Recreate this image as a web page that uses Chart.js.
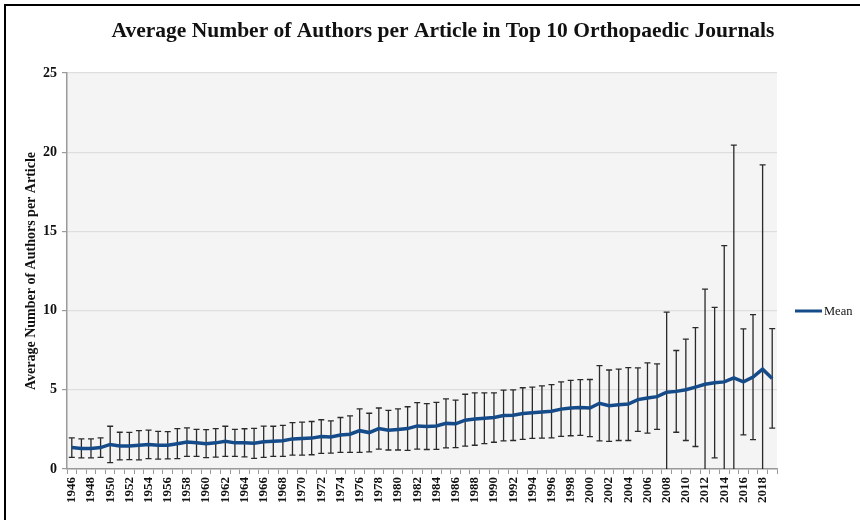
<!DOCTYPE html>
<html>
<head>
<meta charset="utf-8">
<title>Authors per Article</title>
<script src="https://cdn.jsdelivr.net/npm/chart.js@4.4.1/dist/chart.umd.min.js"></script>
<style>
  html, body { margin: 0; padding: 0; background: #fff; overflow: hidden; }
  #chart { display: block; }
</style>
</head>
<body>
<canvas id="chart" width="860" height="520"></canvas>
<script>
const years = [
  '1946', '1947', '1948', '1949', '1950', '1951', '1952', '1953', '1954', '1955',
  '1956', '1957', '1958', '1959', '1960', '1961', '1962', '1963', '1964', '1965',
  '1966', '1967', '1968', '1969', '1970', '1971', '1972', '1973', '1974', '1975',
  '1976', '1977', '1978', '1979', '1980', '1981', '1982', '1983', '1984', '1985',
  '1986', '1987', '1988', '1989', '1990', '1991', '1992', '1993', '1994', '1995',
  '1996', '1997', '1998', '1999', '2000', '2001', '2002', '2003', '2004', '2005',
  '2006', '2007', '2008', '2009', '2010', '2011', '2012', '2013', '2014', '2015',
  '2016', '2017', '2018', '2019'
];

// mean authors per article, one value per year
const meanAuthors = [
  1.35, 1.30, 1.30, 1.35, 1.55, 1.45, 1.45, 1.50, 1.55, 1.50,
  1.50, 1.60, 1.70, 1.65, 1.60, 1.65, 1.75, 1.65, 1.65, 1.62,
  1.72, 1.75, 1.78, 1.90, 1.92, 1.95, 2.05, 2.02, 2.15, 2.20,
  2.42, 2.30, 2.55, 2.45, 2.50, 2.55, 2.72, 2.68, 2.72, 2.88,
  2.85, 3.08, 3.15, 3.20, 3.25, 3.38, 3.40, 3.50, 3.55, 3.60,
  3.65, 3.78, 3.85, 3.88, 3.85, 4.15, 4.00, 4.05, 4.10, 4.38,
  4.48, 4.57, 4.85, 4.90, 5.00, 5.17, 5.35, 5.45, 5.50, 5.75,
  5.50, 5.80, 6.30, 5.72
];

// standard deviation, drawn as +/- error bars (lower end stops at 0)
const sdAuthors = [
  0.62, 0.60, 0.60, 0.62, 1.15, 0.87, 0.86, 0.92, 0.90, 0.88,
  0.86, 0.95, 0.90, 0.85, 0.88, 0.90, 0.95, 0.85, 0.89, 0.95,
  0.99, 0.95, 0.98, 1.03, 1.04, 1.05, 1.06, 1.02, 1.10, 1.15,
  1.37, 1.22, 1.30, 1.25, 1.30, 1.38, 1.47, 1.45, 1.48, 1.55,
  1.50, 1.64, 1.65, 1.60, 1.56, 1.60, 1.60, 1.63, 1.62, 1.65,
  1.68, 1.72, 1.75, 1.76, 1.80, 2.38, 2.25, 2.25, 2.30, 2.00,
  2.22, 2.07, 5.05, 2.58, 3.20, 3.75, 6.00, 4.75, 8.60, 14.70,
  3.35, 3.95, 12.90, 3.14
];

const yTicks = [0, 5, 10, 15, 20, 25];

const serif = '"Liberation Serif", "Times New Roman", serif';
const lineBlue = '#164b8a';
const axisGray = '#9a9a9a';

// plot fill plus the black frame along the top and left edges
const plotBackground = {
  id: 'plotBackground',
  beforeDraw(chart) {
    const { ctx, chartArea: a } = chart;
    ctx.save();
    ctx.fillStyle = '#f4f4f4';
    ctx.fillRect(a.left, a.top, a.right - a.left, a.bottom - a.top);
    ctx.strokeStyle = '#000';
    ctx.lineWidth = 2;
    ctx.beginPath();
    ctx.moveTo(5, chart.height);
    ctx.lineTo(5, 5);
    ctx.lineTo(chart.width, 5);
    ctx.stroke();
    ctx.restore();
  }
};

const errorBars = {
  id: 'errorBars',
  beforeDatasetsDraw(chart) {
    const { ctx, scales: { x, y } } = chart;
    ctx.save();
    ctx.strokeStyle = '#2a2a2a';
    ctx.lineWidth = 1.3;
    meanAuthors.forEach((m, i) => {
      const px = x.getPixelForValue(i);
      const low = m - sdAuthors[i];
      const top = y.getPixelForValue(m + sdAuthors[i]);
      const bot = y.getPixelForValue(Math.max(0, low));
      ctx.beginPath();
      ctx.moveTo(px, top);
      ctx.lineTo(px, bot);
      ctx.moveTo(px - 3, top);
      ctx.lineTo(px + 3, top);
      if (low > 0) {
        ctx.moveTo(px - 3, bot);
        ctx.lineTo(px + 3, bot);
      }
      ctx.stroke();
    });
    ctx.restore();
  }
};

// heading and the single legend entry sit outside the plot, so draw them directly
const headingAndKey = {
  id: 'headingAndKey',
  afterDraw(chart) {
    const { ctx } = chart;
    ctx.save();
    ctx.fillStyle = '#111';
    ctx.font = 'bold 21.5px ' + serif;
    ctx.textAlign = 'center';
    ctx.textBaseline = 'middle';
    ctx.fillText('Average Number of Authors per Article in Top 10 Orthopaedic Journals', 443, 31);

    ctx.strokeStyle = lineBlue;
    ctx.lineWidth = 3;
    ctx.beginPath();
    ctx.moveTo(795, 311);
    ctx.lineTo(822, 311);
    ctx.stroke();
    ctx.font = '12.5px ' + serif;
    ctx.textAlign = 'left';
    ctx.fillText('Mean', 824, 312);
    ctx.restore();
  }
};

new Chart(document.getElementById('chart'), {
  type: 'line',
  data: {
    labels: years,
    datasets: [{
      label: 'Mean',
      data: meanAuthors,
      borderColor: lineBlue,
      borderWidth: 3.5,
      pointRadius: 0,
      tension: 0,
      fill: false
    }]
  },
  options: {
    responsive: false,
    animation: false,
    layout: { padding: { left: 6, right: 83, top: 73, bottom: 0 } },
    plugins: {
      legend: { display: false },
      tooltip: { enabled: false }
    },
    scales: {
      x: {
        offset: true,
        grid: { offset: true, drawOnChartArea: false, tickLength: 5, color: axisGray },
        border: { color: axisGray, width: 1.5 },
        ticks: {
          autoSkip: false,
          maxRotation: 90,
          minRotation: 90,
          padding: 3,
          color: '#111',
          font: { family: serif, size: 13, weight: 'bold' },
          callback(value, index) {
            return index % 2 === 0 ? this.getLabelForValue(value) : '';
          }
        },
        afterFit(scale) { scale.height = 51; }
      },
      y: {
        min: yTicks[0],
        max: yTicks[yTicks.length - 1],
        afterBuildTicks(scale) { scale.ticks = yTicks.map(v => ({ value: v })); },
        grid: { color: '#dedede', lineWidth: 1.2, tickLength: 5, tickColor: axisGray },
        border: { color: axisGray, width: 1.5 },
        ticks: {
          padding: 5,
          color: '#111',
          font: { family: serif, size: 14, weight: 'bold' }
        },
        title: {
          display: true,
          text: 'Average Number of Authors per Article',
          color: '#111',
          font: { family: serif, size: 14, weight: 'bold' },
          padding: { top: 17, bottom: 0 }
        },
        afterFit(scale) { scale.width = 61; }
      }
    }
  },
  plugins: [plotBackground, errorBars, headingAndKey]
});
</script>
</body>
</html>
